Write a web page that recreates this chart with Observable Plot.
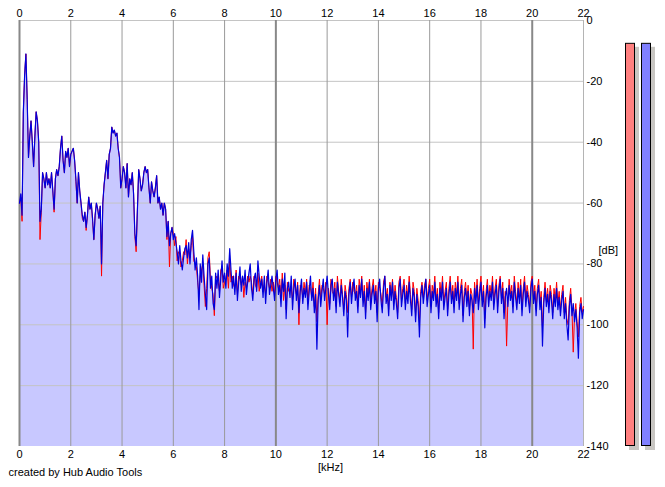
<!DOCTYPE html>
<html><head><meta charset="utf-8">
<script src="https://cdn.jsdelivr.net/npm/d3@7"></script>
<script src="https://cdn.jsdelivr.net/npm/@observablehq/plot@0.6"></script>
<style>html,body{margin:0;padding:0;background:#fff;} svg{display:block}</style>
</head><body><div id="chart"></div>
<script>
// FFT bin spacing (kHz)
const freqStep = 0.05;
// Right channel (blue), dB, 0.00 .. 22.00 kHz, 20 values per kHz row
const blueDb = [
-60,-57,-64,-30,-18,-11,-26,-45,-38,-33,-40,-48,-38,-30,-33,-40,-66,-62,-50,-52,
-55,-50,-54,-52,-55,-50,-56,-62,-52,-49,-51,-48,-42,-38,-46,-50,-43,-45,-42,-48,
-44,-43,-42,-46,-52,-60,-50,-56,-60,-64,-66,-63,-68,-64,-58,-62,-60,-65,-72,-64,
-60,-62,-65,-61,-80,-60,-54,-50,-46,-52,-44,-42,-35,-37,-36,-38,-37,-42,-45,-55,
-52,-48,-50,-55,-47,-58,-52,-54,-50,-57,-70,-74,-62,-49,-52,-56,-54,-50,-48,-50,
-49,-55,-60,-53,-56,-58,-55,-51,-60,-58,-62,-60,-64,-60,-62,-71,-66,-74,-70,-68,
-72,-70,-73,-76,-80,-74,-79,-82,-78,-75,-74,-78,-73,-80,-72,-69,-76,-82,-78,-84,
-95,-80,-86,-77,-84,-90,-95,-80,-78,-88,-84,-93,-95,-83,-88,-82,-91,-85,-79,-86,
-83,-88,-80,-84,-75,-82,-88,-84,-90,-83,-92,-86,-81,-89,-84,-87,-82,-90,-86,-83,
-80,-88,-92,-85,-83,-89,-79,-84,-88,-85,-91,-84,-93,-86,-82,-90,-87,-84,-88,-92,
-85,-82,-90,-87,-94,-85,-89,-83,-98,-88,-86,-91,-84,-95,-88,-85,-92,-87,-96,-89,
-85,-93,-88,-91,-86,-95,-89,-84,-92,-88,-96,-90,-108,-92,-87,-94,-89,-85,-92,-88,
-84,-90,-95,-87,-85,-92,-88,-96,-86,-90,-94,-87,-91,-97,-89,-92,-104,-90,-86,-93,
-88,-85,-92,-89,-96,-87,-91,-85,-94,-89,-98,-88,-92,-86,-95,-90,-87,-93,-89,-99,
-88,-85,-92,-96,-88,-84,-93,-90,-97,-87,-92,-86,-95,-89,-93,-98,-88,-85,-94,-90,
-87,-95,-89,-93,-86,-92,-97,-88,-91,-99,-90,-94,-104,-91,-87,-93,-89,-85,-94,-90,
-87,-96,-89,-92,-86,-94,-90,-98,-88,-92,-86,-95,-91,-88,-97,-90,-86,-93,-89,-96,
-88,-92,-86,-95,-90,-87,-99,-91,-88,-94,-89,-97,-90,-92,-96,-88,-93,-87,-95,-90,
-86,-94,-89,-101,-91,-87,-94,-89,-92,-86,-95,-90,-87,-96,-89,-85,-93,-88,-98,-91,
-88,-94,-87,-92,-89,-96,-86,-91,-95,-88,-93,-87,-97,-90,-86,-94,-89,-92,-96,-88,
-85,-93,-89,-97,-90,-87,-95,-91,-107,-93,-88,-94,-90,-96,-89,-92,-98,-90,-94,-88,
-95,-91,-97,-92,-89,-98,-93,-100,-105,-94,-90,-97,-93,-99,-95,-101,-111,-96,-93,-98,
-95
];
// Left channel (red), dB, same bins
const redDb = [
-60,-58,-66,-30,-18,-11,-26,-45,-38,-33,-40,-48,-38,-30,-33,-40,-72,-63,-50,-52,
-55,-50,-54,-52,-55,-50,-56,-63,-52,-49,-51,-48,-42,-38,-46,-50,-43,-45,-42,-48,
-44,-43,-42,-46,-53,-60,-50,-56,-60,-65,-66,-63,-69,-64,-58,-62,-60,-66,-72,-64,
-60,-62,-65,-61,-84,-60,-54,-50,-46,-52,-44,-42,-35,-37,-36,-38,-37,-42,-45,-55,
-52,-48,-50,-55,-47,-58,-52,-54,-50,-57,-71,-76,-62,-49,-52,-56,-54,-50,-48,-50,
-49,-55,-60,-53,-56,-58,-55,-51,-60,-58,-62,-60,-64,-60,-62,-72,-66,-81,-70,-68,
-70,-74,-71,-79,-76,-77,-81,-79,-76,-77,-72,-80,-75,-78,-74,-71,-79,-80,-81,-86,
-90,-84,-82,-80,-87,-94,-88,-78,-76,-85,-88,-90,-97,-85,-84,-86,-89,-82,-81,-88,
-86,-85,-82,-88,-79,-86,-84,-87,-88,-82,-90,-84,-85,-87,-84,-91,-86,-88,-84,-86,
-84,-86,-90,-84,-87,-88,-83,-89,-86,-84,-89,-87,-90,-84,-86,-88,-85,-89,-86,-90,
-84,-86,-88,-85,-91,-83,-92,-87,-95,-86,-89,-89,-88,-92,-85,-88,-90,-86,-100,-87,
-88,-91,-86,-90,-85,-93,-87,-88,-91,-86,-94,-88,-99,-90,-85,-92,-87,-88,-90,-86,
-100,-88,-93,-85,-89,-90,-86,-94,-84,-89,-92,-85,-90,-95,-87,-90,-96,-88,-85,-91,
-86,-89,-90,-87,-94,-85,-89,-84,-92,-87,-96,-86,-90,-85,-93,-88,-85,-91,-87,-96,
-86,-88,-90,-94,-86,-84,-91,-88,-95,-86,-90,-85,-93,-87,-91,-96,-86,-84,-92,-88,
-85,-93,-87,-91,-84,-90,-95,-86,-89,-97,-88,-92,-99,-89,-86,-91,-87,-85,-92,-88,
-85,-94,-87,-90,-84,-92,-88,-96,-86,-90,-84,-93,-89,-86,-95,-88,-84,-91,-87,-94,
-86,-90,-84,-93,-88,-85,-97,-89,-86,-92,-87,-95,-88,-90,-108,-86,-91,-85,-93,-88,
-84,-92,-87,-98,-89,-85,-92,-87,-90,-84,-93,-88,-85,-94,-87,-84,-91,-86,-96,-89,
-107,-92,-85,-90,-87,-94,-84,-89,-93,-86,-91,-85,-95,-88,-84,-92,-87,-90,-94,-86,
-84,-91,-87,-95,-88,-85,-93,-89,-101,-91,-86,-92,-88,-94,-87,-90,-96,-88,-92,-86,
-93,-89,-95,-90,-87,-96,-91,-98,-100,-92,-88,-95,-109,-97,-93,-99,-104,-94,-91,-96,
-94
];
const xTicks = [0,2,4,6,8,10,12,14,16,18,20,22];
const yTicks = [0,-20,-40,-60,-80,-100,-120,-140];
const majorX = [0,10,20];
const minorX = [2,4,6,8,12,14,16,18];
const meterLevels = [-7.5, -7.5]; // left (red), right (blue) peak levels in dB
const meterColors = ["#ff8080", "#8080ff"];

const blue = blueDb.map((db, i) => ({f: i * freqStep, db}));
const red = redDb.map((db, i) => ({f: i * freqStep, db}));

const plot = Plot.plot({
  width: 665, height: 487,
  marginLeft: 19, marginRight: 82, marginTop: 20, marginBottom: 41,
  style: {fontFamily: "'Liberation Sans', Arial, sans-serif", fontSize: "11px", color: "#000", background: "#fff"},
  x: {domain: [0, 22]},
  y: {domain: [-140, 0]},
  marks: [
    Plot.areaY(blue, {x: "f", y1: -140, y2: "db", fill: "#c8c8ff", curve: "linear"}),
    Plot.ruleY(yTicks.filter(v => v > -140), {stroke: "#c4c4c4", strokeWidth: 1}),
    Plot.ruleX(minorX, {stroke: "#9a9a9a", strokeWidth: 1}),
    Plot.ruleX(majorX, {stroke: "#888888", strokeWidth: 2}),
    Plot.ruleX([22], {stroke: "#b4b4b4", strokeWidth: 1}),
    Plot.lineY(red, {x: "f", y: "db", stroke: "#ff0000", strokeWidth: 1}),
    Plot.lineY(blue, {x: "f", y: "db", stroke: "#0000dd", strokeWidth: 1.2}),
    Plot.axisX({anchor: "top", ticks: xTicks, tickSize: 0, tickPadding: 4, label: null, tickFormat: d => String(d)}),
    Plot.axisX({anchor: "bottom", ticks: xTicks, tickSize: 0, tickPadding: 4, label: null, tickFormat: d => String(d)}),
    Plot.axisY({anchor: "right", ticks: yTicks, tickSize: 0, tickPadding: 3, label: null, tickFormat: d => String(d)}),
    Plot.text(["[kHz]"], {frameAnchor: "bottom", dx: 29, dy: 24, fontSize: 11, fill: "#000"}),
    Plot.text(["[dB]"], {frameAnchor: "right", dx: 15, dy: 17, textAnchor: "start", fontSize: 11, fill: "#000"}),
    Plot.text(["created by Hub Audio Tools"], {frameAnchor: "bottom-left", dx: -11, dy: 29, textAnchor: "start", fontSize: 11, fill: "#000"})
  ]
});

// level meters on the right, heights through the plot's y scale
const yScale = plot.scale("y");
const svg = d3.select(plot);
const g = svg.append("g");
const meterX = [625, 641];
const base = yScale.apply(-140);
meterLevels.forEach((lvl, i) => {
  const top = yScale.apply(lvl);
  g.append("rect").attr("x", meterX[i] + 4).attr("y", top + 4).attr("width", 10).attr("height", base - top)
    .attr("fill", "#c8c6c2");
  g.append("rect").attr("x", meterX[i] + 0.5).attr("y", top + 0.5).attr("width", 9).attr("height", base - top - 1)
    .attr("fill", meterColors[i]).attr("stroke", "#000").attr("stroke-width", 1);
});

document.getElementById("chart").appendChild(plot);
</script>
</body></html>
